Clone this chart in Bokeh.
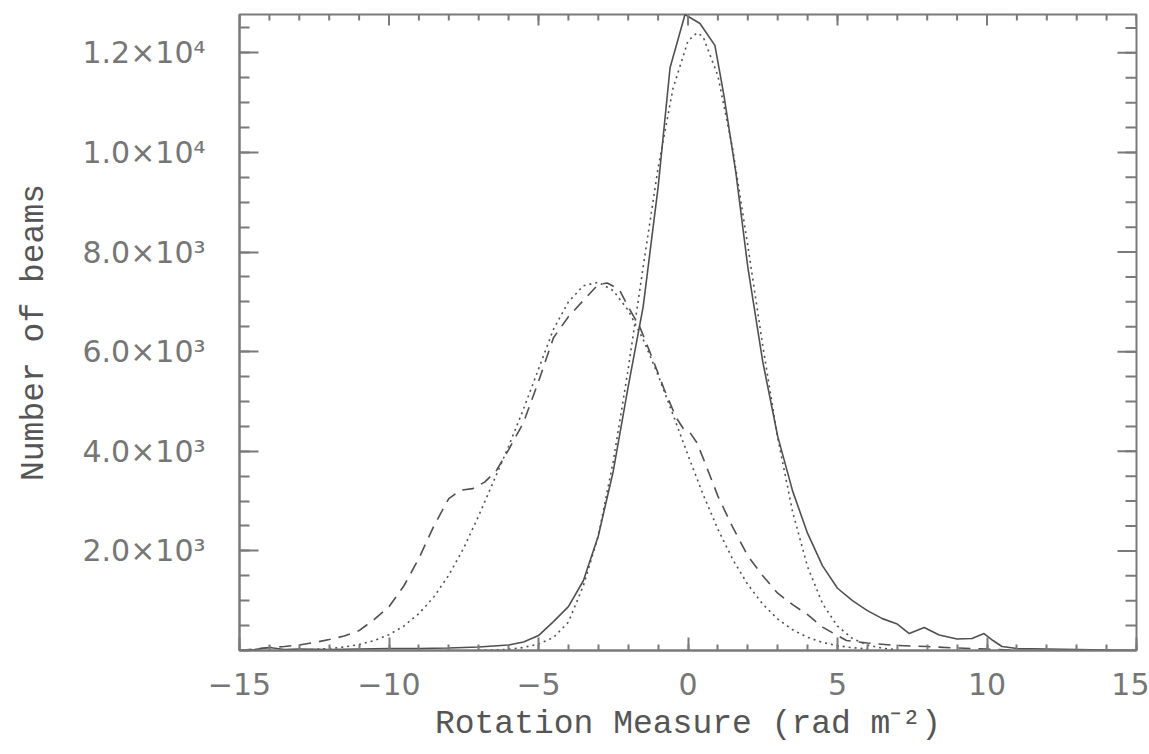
import math
from bokeh.plotting import figure
from bokeh.models import Range1d, FixedTicker
from bokeh.embed import file_html
from bokeh.resources import INLINE

# ---- data ----
solid_x = [-15, -14.5, -14, -13.5, -13, -12, -11, -10, -9, -8, -7, -6.5, -6, -5.5, -5,
           -4.5, -4, -3.5, -3, -2.5, -2, -1.5, -1, -0.6, -0.1, 0.4, 0.9, 1.2, 1.6, 2,
           2.5, 3, 3.5, 4, 4.5, 5, 5.5, 6, 6.5, 7, 7.4, 7.9, 8.4, 9, 9.5, 9.9, 10.2,
           10.5, 11, 12, 13, 14, 15]
solid_y = [0, 20, 60, 20, 30, 20, 30, 40, 40, 50, 70, 90, 110, 170, 300,
           580, 880, 1400, 2300, 3600, 5300, 6900, 9300, 11700, 12770, 12590, 12150, 11150, 9600, 7700,
           5800, 4300, 3200, 2350, 1700, 1250, 1000, 800, 640, 530, 340, 460, 310, 230, 240, 340, 200,
           80, 40, 30, 20, 10, 0]

fit1_x = [-7, -6.5, -6, -5.5, -5, -4.5, -4, -3.5, -3, -2.5, -2, -1.5, -1, -0.5, 0, 0.3, 0.5,
          1, 1.5, 2, 2.5, 3, 3.5, 4, 4.5, 5, 5.5, 6, 6.5, 7]
fit1_y = [5, 10, 25, 60, 130, 260, 570, 1300, 2300, 3800, 5650, 7700, 9690, 11290, 12240, 12400, 12330,
          11540, 10050, 8130, 6120, 4270, 2780, 1680, 940, 490, 240, 110, 45, 15]

dash_x = [-15, -14.5, -14, -13.5, -13, -12.5, -12, -11.5, -11, -10.5, -10, -9.5, -9, -8.5, -8,
          -7.6, -7.2, -6.8, -6.4, -6, -5.5, -5, -4.5, -4, -3.5, -3, -2.7, -2.3, -2, -1.6,
          -1.2, -0.8, -0.4, -0.15, 0.05, 0.3, 0.6, 1, 1.5, 2, 2.5, 3, 3.5, 4, 4.5,
          5, 5.3, 6, 7, 8, 9, 10, 11, 12, 13, 14, 15]
dash_y = [0, 30, 60, 80, 110, 160, 220, 290, 400, 620, 880, 1300, 1850, 2500, 3050,
          3220, 3250, 3380, 3620, 4030, 4580, 5400, 6280, 6700, 7030, 7350, 7380, 7250, 6900, 6480,
          5880, 5250, 4680, 4450, 4390, 4170, 3720, 3100, 2470, 1900, 1500, 1150, 920, 720, 470,
          300, 200, 150, 100, 80, 50, 30, 0, 0, 0, 0, 0]

fit2_x = [-13, -12.5, -12, -11.5, -11, -10.5, -10, -9.5, -9, -8.5, -8, -7.5, -7, -6.5, -6,
          -5.5, -5, -4.5, -4, -3.5, -3, -2.5, -2, -1.5, -1, -0.5, 0, 0.5, 1, 1.5, 2, 2.5,
          3, 3.5, 4, 4.5, 5, 5.5, 6]
fit2_y = [11, 21, 39, 70, 119, 198, 318, 493, 741, 1076, 1513, 2057, 2707, 3400, 4100,
          4850, 5650, 6450, 7000, 7322, 7395, 7226, 6831, 6248, 5528, 4732, 3920, 3141, 2435, 1826, 1325, 931,
          632, 415, 264, 162, 97, 56, 31]

x_min, x_max = -15, 15
y_min, y_max = 0, 12770
x_ticks = [-15, -10, -5, 0, 5, 10, 15]
x_labels = ["\u221215", "\u221210", "\u22125", "0", "5", "10", "15"]
x_minor = list(range(-15, 16))
y_ticks = [2000, 4000, 6000, 8000, 10000, 12000]
y_labels = ["2.0\u00d710\u00b3", "4.0\u00d710\u00b3", "6.0\u00d710\u00b3",
            "8.0\u00d710\u00b3", "1.0\u00d710\u2074", "1.2\u00d710\u2074"]
y_minor = list(range(0, 13000, 500))

LINE = "#505050"
FRAME = "#7a7a7a"

p = figure(width=1149, height=754, output_backend="svg", toolbar_location=None,
           x_range=Range1d(x_min, x_max), y_range=Range1d(y_min, y_max),
           min_border_left=239, min_border_right=13, min_border_top=14, min_border_bottom=104)
p.xgrid.visible = False
p.ygrid.visible = False
p.outline_line_color = FRAME
p.outline_line_width = 2
p.background_fill_color = "white"
p.border_fill_color = "white"

p.line(solid_x, solid_y, line_color=LINE, line_width=1.6)
p.line(fit1_x, fit1_y, line_color=LINE, line_width=1.6, line_dash="2 4")
p.line(dash_x, dash_y, line_color=LINE, line_width=1.6, line_dash="12 8")
p.line(fit2_x, fit2_y, line_color=LINE, line_width=1.6, line_dash="2 4")

# inward ticks on the top and right edges (clipped to the frame, so half shows)
p.scatter(x_ticks, [y_max] * len(x_ticks), marker="dash", angle=math.pi / 2, size=22,
          line_color=FRAME, line_width=2)
p.scatter(x_minor, [y_max] * len(x_minor), marker="dash", angle=math.pi / 2, size=12,
          line_color=FRAME, line_width=2)
p.scatter([x_max] * len(y_ticks), y_ticks, marker="dash", size=38,
          line_color=FRAME, line_width=2)
p.scatter([x_max] * len(y_minor), y_minor, marker="dash", size=22,
          line_color=FRAME, line_width=2)

xt = FixedTicker(ticks=x_ticks, minor_ticks=x_minor)
yt = FixedTicker(ticks=y_ticks, minor_ticks=y_minor)


def style(ax, ticker, tin, min_in):
    ax.ticker = ticker
    ax.axis_line_color = FRAME
    ax.axis_line_width = 2
    ax.major_tick_line_color = FRAME
    ax.minor_tick_line_color = FRAME
    ax.major_tick_line_width = 2
    ax.minor_tick_line_width = 2
    ax.major_tick_in = tin
    ax.major_tick_out = 0
    ax.minor_tick_in = min_in
    ax.minor_tick_out = 0


bx = p.xaxis[0]
style(bx, xt, 13, 6)
bx.major_label_overrides = dict(zip(x_ticks, x_labels))
bx.major_label_text_font = "DejaVu Sans"
bx.major_label_text_font_size = "30px"
bx.major_label_text_color = "#767676"
bx.major_label_standoff = 22
bx.axis_label = "Rotation Measure (rad m\u207b\u00b2)"
bx.axis_label_text_font = "Liberation Mono"
bx.axis_label_text_font_size = "33px"
bx.axis_label_text_font_style = "normal"
bx.axis_label_text_color = "#555555"
bx.axis_label_standoff = 8

ly = p.yaxis[0]
style(ly, yt, 19, 10)
ly.major_label_overrides = dict(zip(y_ticks, y_labels))
ly.major_label_text_font = "DejaVu Sans"
ly.major_label_text_font_size = "30px"
ly.major_label_text_color = "#767676"
ly.major_label_standoff = 34
ly.axis_label = "Number of beams"
ly.axis_label_text_font = "Liberation Mono"
ly.axis_label_text_font_size = "33px"
ly.axis_label_text_font_style = "normal"
ly.axis_label_text_color = "#555555"
ly.axis_label_standoff = 26

open("out.html", "w").write(file_html(p, INLINE))
